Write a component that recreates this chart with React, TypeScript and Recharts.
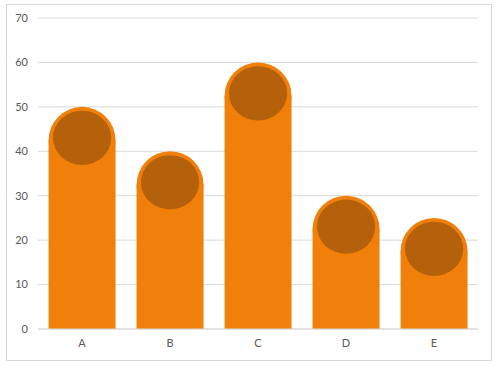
import { BarChart, Bar, XAxis, YAxis, CartesianGrid } from "recharts";

const categories = ["A", "B", "C", "D", "E"];
const values = [50, 40, 60, 30, 25];
const yTicks = [0, 10, 20, 30, 40, 50, 60, 70];

const data = categories.map((name, i) => ({ name, value: values[i] }));

const BAR_COLOR = "#f0800a";
const CAP_COLOR = "#b5600a";

function CappedBar(props: any) {
  const { x, y, width, height } = props;
  if (!width || height <= 0) return null;
  const r = width / 2;
  const cx = x + r;
  const cy = y + r;
  return (
    <g>
      <rect x={x} y={cy} width={width} height={Math.max(0, height - r)} fill={BAR_COLOR} />
      <circle cx={cx} cy={cy} r={r} fill={BAR_COLOR} />
      <ellipse cx={cx} cy={cy - 2.5} rx={r * 0.87} ry={r * 0.81} fill={CAP_COLOR} />
    </g>
  );
}

export default function App() {
  const tick = { fontSize: 11, fill: "#595959", fontFamily: "Lato, 'Liberation Sans', sans-serif" };
  return (
    <div style={{ position: "absolute", left: 0, top: 0, width: 501, height: 366, background: "#fff" }}>
      <div
        style={{
          position: "absolute",
          left: 6,
          top: 4,
          width: 486,
          height: 357,
          border: "1px solid #d9d9d9",
          boxSizing: "border-box",
        }}
      />
      <div style={{ position: "absolute", left: 0, top: 0 }}>
        <BarChart
          width={501}
          height={366}
          data={data}
          margin={{ top: 18, right: 23, bottom: 7, left: 0 }}
          barCategoryGap="12%"
        >
          <CartesianGrid vertical={false} stroke="#d9d9d9" />
          <XAxis
            dataKey="name"
            height={30}
            tick={tick}
            tickLine={false}
            axisLine={{ stroke: "#d9d9d9" }}
            tickMargin={4}
          />
          <YAxis
            width={38}
            domain={[0, 70]}
            ticks={yTicks}
            tick={tick}
            tickLine={false}
            axisLine={false}
            tickMargin={4}
          />
          <Bar dataKey="value" shape={<CappedBar />} isAnimationActive={false} />
        </BarChart>
      </div>
    </div>
  );
}
